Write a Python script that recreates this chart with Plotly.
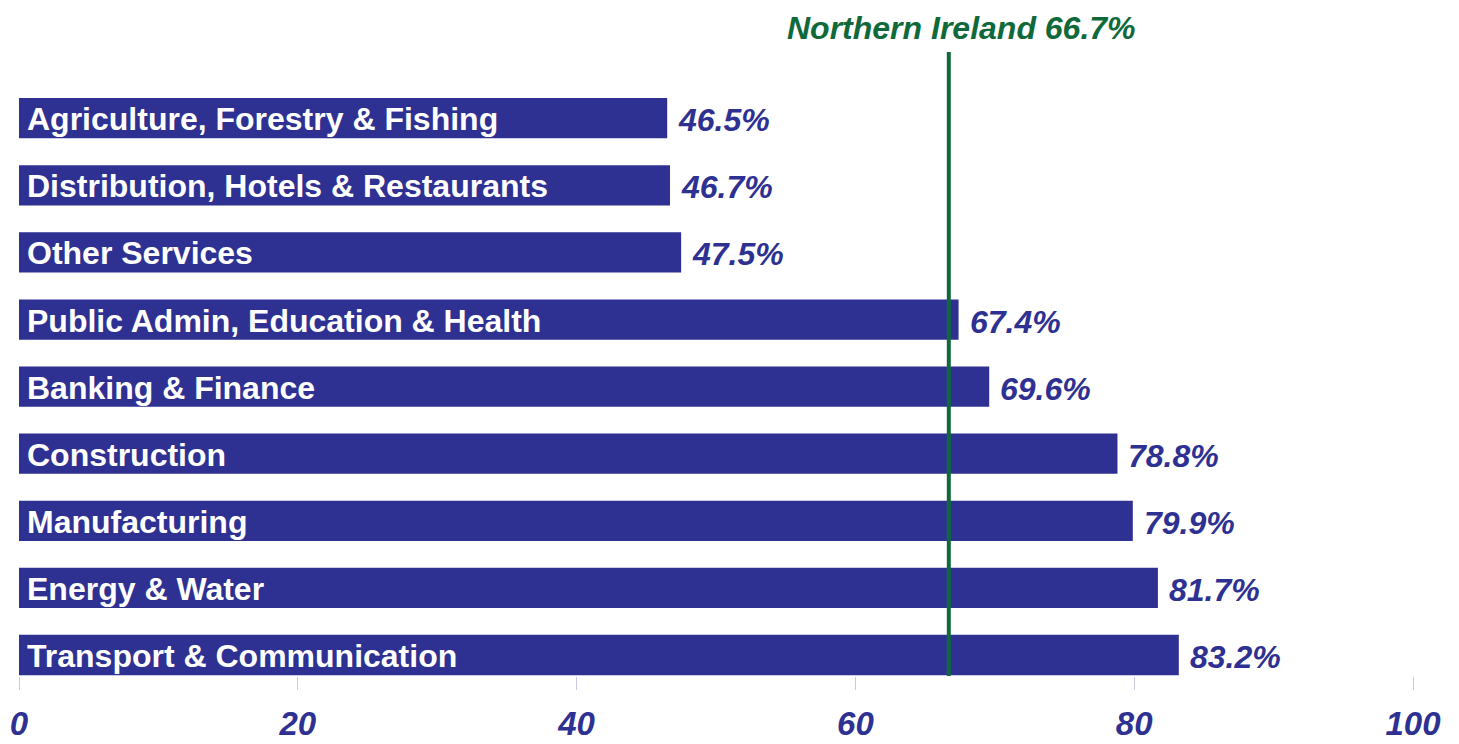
import plotly.graph_objects as go

categories = [
    "Agriculture, Forestry & Fishing",
    "Distribution, Hotels & Restaurants",
    "Other Services",
    "Public Admin, Education & Health",
    "Banking & Finance",
    "Construction",
    "Manufacturing",
    "Energy & Water",
    "Transport & Communication",
]
values = [46.5, 46.7, 47.5, 67.4, 69.6, 78.8, 79.9, 81.7, 83.2]
ni_value = 66.7
ni_label = "Northern Ireland 66.7%"
tick_vals = [0, 20, 40, 60, 80, 100]

BLUE = "#2E3192"
GREEN = "#10693A"
FONT = "Liberation Sans, Arial, sans-serif"

fig = go.Figure()
fig.add_trace(go.Bar(
    x=values, y=categories, orientation="h",
    marker=dict(color=BLUE, line=dict(width=0)),
    width=0.6, hoverinfo="skip",
))

for cat, v in zip(categories, values):
    fig.add_annotation(x=0, y=cat, text="<b>%s</b>" % cat, showarrow=False,
                       xanchor="left", yanchor="middle", xshift=6, yshift=-1,
                       font=dict(family=FONT, size=32, color="white"))
    fig.add_annotation(x=v, y=cat, text="<b><i>%.1f%%</i></b>" % v, showarrow=False,
                       xanchor="left", yanchor="middle", xshift=9, yshift=-2,
                       font=dict(family=FONT, size=32, color=BLUE))

fig.add_shape(type="line", x0=ni_value, x1=ni_value, xref="x", yref="paper",
              y0=0, y1=1, line=dict(color=GREEN, width=4))
fig.add_annotation(x=ni_value, y=1, xref="x", yref="paper",
                   text="<b><i>%s</i></b>" % ni_label, showarrow=False,
                   xanchor="center", yanchor="middle", xshift=13, yshift=24,
                   font=dict(family=FONT, size=32, color=GREEN))

# page body has an 8px default margin, so the figure is sized/offset to compensate
fig.update_layout(
    width=1451, height=736,
    margin=dict(l=11, r=46, t=44, b=68, autoexpand=False),
    paper_bgcolor="white", plot_bgcolor="white",
    showlegend=False, bargap=0.4,
    xaxis=dict(range=[0, 100], tickvals=tick_vals, ticks="outside", ticklen=13,
               tickcolor="#C8C9E2", tickwidth=1, showgrid=False, zeroline=False,
               showline=False, ticklabelstandoff=5, automargin=False,
               tickfont=dict(family=FONT, size=33, color=BLUE, weight="bold", style="italic")),
    yaxis=dict(categoryorder="array", categoryarray=categories[::-1],
               range=[-0.313, 8.987], showticklabels=False, showgrid=False,
               zeroline=False, showline=False, ticks="", automargin=False),
)

fig.write_html("out.html")
